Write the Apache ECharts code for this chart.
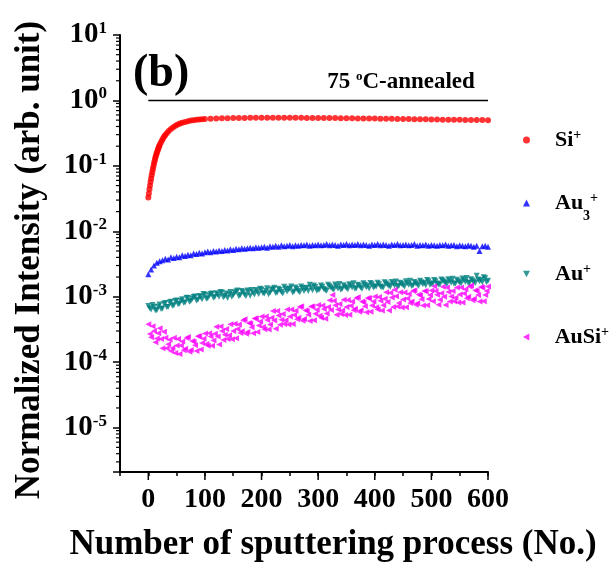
<!DOCTYPE html>
<html>
<head>
<meta charset="utf-8">
<script src="https://cdn.jsdelivr.net/npm/echarts@6/dist/echarts.min.js"></script>
<style>
html,body{margin:0;padding:0;background:#fff;}
#main{width:613px;height:563px;}
</style>
</head>
<body>
<div id="main"></div>
<script>
// sputtering step of the sampled points for the gold series
var STEP = 5;

// Si+ (normalized)
var siX = [0,1,2,3,4,5,6,7,8,9,10,11,12,13,14,15,16,17,18,19,20,22,24,26,28,30,33,36,40,44,48,52,56,60,65,70,75,80,85,90,95,100,
    110,120,130,140,150,160,170,180,190,200,210,220,230,240,250,260,270,280,290,300,310,320,330,340,350,360,370,380,390,400,
    410,420,430,440,450,460,470,480,490,500,510,520,530,540,550,560,570,580,590,600];
var siY = [0.033,0.038,0.044,0.05,0.057,0.064,0.072,0.08,0.089,0.098,0.108,0.118,0.128,0.138,0.148,0.158,0.168,0.178,0.188,0.198,0.208,0.226,0.244,0.262,0.28,0.296,0.318,0.34,0.365,0.39,0.41,0.428,0.443,0.456,0.47,0.482,0.492,0.5,0.507,0.513,0.518,0.522,
    0.527,0.531,0.534,0.536,0.538,0.54,0.541,0.542,0.543,0.543,0.544,0.543,0.544,0.543,0.542,0.543,0.542,0.541,0.541,0.54,0.539,0.538,0.537,0.536,0.535,0.534,0.532,0.531,0.53,0.528,
    0.527,0.526,0.524,0.522,0.52,0.519,0.517,0.516,0.514,0.512,0.511,0.509,0.508,0.506,0.505,0.504,0.503,0.502,0.501,0.5];

// Au3+ (x 1e-3), x = 0,5,...,600
var au3Y = [2.2,2.6,3.0,3.3,3.5,3.6,3.8,3.7,4.0,3.9,4.1,4.0,4.3,4.2,4.4,4.3,4.6,4.5,4.7,4.6,
    4.8,4.9,4.8,5.0,4.9,5.1,5.0,5.2,5.1,5.3,5.2,5.4,5.3,5.5,5.4,5.5,5.6,5.5,5.7,5.6,
    5.7,5.8,5.6,5.9,5.8,6.0,5.8,6.1,5.9,6.0,6.2,5.9,6.1,6.0,6.2,6.1,6.3,6.0,6.2,6.1,
    6.3,6.1,6.2,6.4,6.1,6.3,6.2,6.0,6.3,6.2,6.4,6.1,6.3,6.2,6.4,6.1,6.3,6.2,6.0,6.3,
    6.2,6.4,6.1,6.3,6.2,6.0,6.3,6.2,6.4,6.1,6.2,6.3,6.1,6.2,6.4,6.0,6.2,6.1,6.3,6.0,
    6.2,6.1,6.0,6.2,6.1,6.3,6.0,6.1,6.2,5.9,6.1,6.0,5.9,6.1,6.0,5.8,6.0,5.0,5.9,6.0,5.8];

// Au+ (x 1e-3), x = 0,5,...,600 and x = 2.5,7.5,...,597.5
var auY = [0.72,0.64,0.70,0.62,0.76,0.66,0.80,0.70,0.84,0.74,0.88,0.78,0.92,0.82,0.96,0.86,0.99,0.88,1.03,0.92,
    1.07,0.95,1.10,0.97,1.13,1.00,1.16,1.03,0.96,1.18,1.06,1.20,1.02,1.22,1.08,1.25,1.04,1.15,1.27,1.10,
    1.29,1.12,1.35,1.16,1.30,1.14,1.33,1.18,1.42,1.20,1.34,1.16,1.39,1.23,1.44,1.22,1.37,1.52,1.26,1.41,
    1.28,1.48,1.31,1.24,1.45,1.32,1.54,1.34,1.28,1.50,1.36,1.56,1.38,1.32,1.52,1.38,1.61,1.40,1.34,1.56,
    1.43,1.64,1.44,1.38,1.60,1.46,1.68,1.48,1.42,1.64,1.50,1.72,1.52,1.46,1.68,1.54,1.76,1.56,1.50,1.72,
    1.58,1.80,1.60,1.54,1.78,1.62,1.86,1.64,1.58,1.82,1.66,1.90,1.68,1.62,1.86,1.70,2.10,1.72,1.66,1.92,1.76];
var auY2 = [0.67,0.75,0.62,0.71,0.65,0.78,0.70,0.82,0.73,0.86,0.77,0.87,0.81,0.97,0.84,0.93,1.01,0.90,0.99,1.10,
    0.93,1.05,1.12,0.99,1.08,1.18,0.98,1.12,1.09,1.00,1.15,1.25,1.06,1.17,1.03,1.19,1.27,1.08,1.20,1.33,
    1.13,1.24,1.09,1.28,1.37,1.16,1.27,1.12,1.33,1.29,1.44,1.20,1.31,1.17,1.36,1.32,1.22,1.39,1.49,1.24,
    1.30,1.42,1.26,1.52,1.39,1.28,1.45,1.57,1.32,1.42,1.30,1.49,1.61,1.35,1.47,1.33,1.52,1.47,1.63,1.38,
    1.44,1.56,1.40,1.66,1.53,1.42,1.60,1.71,1.46,1.58,1.44,1.63,1.75,1.49,1.61,1.47,1.67,1.63,1.80,1.53,
    1.59,1.72,1.55,1.84,1.69,1.57,1.75,1.89,1.60,1.73,1.59,1.80,1.93,1.64,1.77,1.63,1.84,1.81,1.98,1.67];

// AuSi+ (x 1e-4), x = 0,5,...,600 and x = 2.5,7.5,...,597.5
var ausiY = [3.8,2.4,3.0,2.3,3.3,1.63,2.37,1.88,1.48,2.37,1.8,1.33,2.07,1.61,2.42,1.54,2.05,1.48,2.5,1.97,
    2.75,1.78,2.48,2.15,3.48,1.87,3.0,2.62,2.27,3.8,3.0,2.33,3.78,2.97,4.52,2.9,3.89,2.78,4.64,3.63,
    5.0,3.2,4.41,3.78,6.07,3.24,5.15,4.47,3.84,6.37,5.0,3.83,6.14,4.77,7.18,4.57,6.05,4.28,7.08,5.49,
    7.5,4.76,6.51,5.54,8.83,10.6,7.39,6.37,5.44,8.97,7.0,5.33,8.5,6.57,9.84,6.23,8.21,5.78,9.52,7.35,
    10.1,6.4,8.72,7.39,11.7,6.19,9.74,12.8,7.12,11.7,9.1,6.9,11.0,8.46,12.6,7.97,10.5,7.35,12.1,9.25,
    12.5,14.5,10.7,8.98,14.2,7.49,11.8,10.1,8.56,13.9,10.8,8.18,13.0,9.99,14.8,9.3,12.2,8.5,13.9,10.6,14.4];
var ausiY2 = [2.7,3.55,2.02,2.76,2.26,2.91,1.64,2.2,1.65,1.38,2.27,1.8,1.52,2.34,1.45,2.1,1.82,2.49,1.57,2.29,
    1.9,2.78,1.78,2.73,2.48,3.51,2.18,3.22,2.59,2.25,3.87,3.21,2.8,4.36,2.73,3.98,3.43,4.65,2.89,4.19,
    3.44,4.98,3.15,4.79,4.32,6.05,3.72,5.46,4.37,3.76,6.41,5.25,4.52,6.96,4.31,6.22,5.31,7.13,4.39,6.31,
    5.14,7.38,4.63,6.99,6.26,8.71,5.32,7.76,6.17,5.28,8.95,7.29,6.24,9.56,5.89,8.46,7.19,9.61,5.89,8.48,
    6.93,9.9,6.18,9.3,8.29,11.5,7.0,10.2,8.06,6.88,11.6,9.44,8.04,12.3,7.54,10.8,9.17,12.2,7.44,10.6,
    8.54,12.2,7.55,11.3,10.0,13.9,8.44,12.2,9.63,8.17,13.8,11.2,9.5,14.4,8.81,12.6,10.6,14.1,8.57,12.2];

var xMajor = [0,100,200,300,400,500,600];
var yDecades = [-6,-5,-4,-3,-2,-1,0];
var X_MIN = -50, X_MAX = 600;
var Y_MIN = 2.1e-6, Y_MAX = 10;

var FONT = 'Liberation Serif';

function toPairs(ys, scale, offset){
    var out = [];
    for(var i = 0; i < ys.length; i++){
        out.push([i * STEP + offset, ys[i] * scale]);
    }
    return out;
}

var siData = [];
for(var i = 0; i < siX.length; i++){
    siData.push([siX[i], siY[i]]);
}

// minor ticks of the log axis (2..9 in each decade)
var yMinor = [];
for(var d = 0; d < yDecades.length; d++){
    for(var m = 2; m <= 9; m++){
        var v = m * Math.pow(10, yDecades[d]);
        if(v > Y_MIN && v < Y_MAX) yMinor.push([X_MIN, v]);
    }
}
var xMajorData = xMajor.map(function(v){ return [v, Y_MIN]; });

var myChart = echarts.init(document.getElementById('main'));

var legendNames = ['Si+', 'Au3+', 'Au+', 'AuSi+'];
var legendText = {
    'Si+': '{b|Si}{sup|+}',
    'Au3+': '{b|Au}{sub|3}{sup|+}',
    'Au+': '{b|Au}{sup|+}',
    'AuSi+': '{b|AuSi}{sup|+}'
};
var legendCenters = [139, 202, 273, 336];
var legendIcons = ['circle', 'triangle', 'path://M0,0L10,0L5,9Z', 'path://M9,0L9,10L0,5Z'];

var legendRich = {
    b: {fontFamily: FONT, fontWeight: 'bold', fontSize: 22, lineHeight: 24, color: '#000', padding: [0,0,0,20]},
    sup: {fontFamily: FONT, fontWeight: 'bold', fontSize: 14, lineHeight: 12, verticalAlign: 'top', color: '#000'},
    sub: {fontFamily: FONT, fontWeight: 'bold', fontSize: 14, lineHeight: 12, verticalAlign: 'bottom', color: '#000', padding: [0,0,-8,0]}
};

var legends = legendNames.map(function(n, i){
    return {
        data: [{name: n, icon: legendIcons[i]}],
        orient: 'vertical',
        left: 518,
        top: legendCenters[i] - 16,
        itemWidth: 7,
        itemHeight: 7,
        selectedMode: false,
        formatter: function(name){ return legendText[name]; },
        textStyle: {rich: legendRich}
    };
});

option = {
    backgroundColor: '#fff',
    animation: false,
    grid: {left: 120, right: 125, top: 35, bottom: 91},
    legend: legends,
    xAxis: {
        type: 'value',
        min: X_MIN,
        max: X_MAX,
        interval: 50,
        splitLine: {show: false},
        axisLine: {onZero: false, lineStyle: {color: '#000', width: 2}},
        axisTick: {inside: false, length: 4, lineStyle: {color: '#000', width: 1.5}},
        axisLabel: {
            margin: 14,
            color: '#000',
            fontFamily: FONT,
            fontWeight: 'bold',
            fontSize: 28,
            formatter: function(v){
                return (v >= 0 && v % 100 === 0) ? String(v) : '';
            }
        }
    },
    yAxis: {
        type: 'log',
        logBase: 10,
        min: Y_MIN,
        max: Y_MAX,
        splitLine: {show: false},
        axisLine: {onZero: false, lineStyle: {color: '#000', width: 2}},
        axisTick: {inside: false, length: 7, lineStyle: {color: '#000', width: 1.5}},
        axisLabel: {
            margin: 13,
            color: '#000',
            formatter: function(v){
                var lg = Math.log10(v);
                var e = Math.round(lg);
                if(Math.abs(lg - e) > 1e-6) return '';
                return '{b|10}{s|' + e + '}';
            },
            rich: {
                b: {fontFamily: FONT, fontWeight: 'bold', fontSize: 29, lineHeight: 30, color: '#000'},
                s: {fontFamily: FONT, fontWeight: 'bold', fontSize: 17, lineHeight: 15, verticalAlign: 'top', color: '#000'}
            }
        }
    },
    graphic: [
        {
            type: 'text',
            rotation: Math.PI / 2,
            x: 30, y: 260,
            style: {text: 'Normalized Intensity (arb. unit)', font: 'bold 35px "Liberation Serif"', fill: '#000', textAlign: 'center', textVerticalAlign: 'middle'}
        },
        {
            type: 'text', x: 333, y: 545,
            style: {text: 'Number of sputtering process (No.)', font: 'bold 35px "Liberation Serif"', fill: '#000', textAlign: 'center', textVerticalAlign: 'middle'}
        },
        {
            type: 'text', x: 133, y: 74,
            style: {text: '(b)', font: 'bold 46px "Liberation Serif"', fill: '#000', textAlign: 'left', textVerticalAlign: 'middle'}
        },
        {
            type: 'text', x: 401, y: 82,
            style: {
                text: '{n|75 }{o|o}{n|C-annealed}',
                textAlign: 'center', textVerticalAlign: 'middle',
                rich: {
                    n: {fontFamily: FONT, fontWeight: 'bold', fontSize: 23, lineHeight: 24, fill: '#000'},
                    o: {fontFamily: FONT, fontWeight: 'bold', fontSize: 13, lineHeight: 12, verticalAlign: 'top', fill: '#000'}
                }
            }
        }
    ],
    series: [
        {
            name: 'Si+',
            type: 'scatter',
            symbol: 'circle',
            symbolSize: 6,
            itemStyle: {color: '#ff0000'},
            data: siData
        },
        {
            name: 'Au3+',
            type: 'scatter',
            symbol: 'triangle',
            symbolSize: 6,
            itemStyle: {color: '#0000ff'},
            data: toPairs(au3Y, 1e-3, 0)
        },
        {
            name: 'Au+',
            type: 'scatter',
            symbol: 'triangle',
            symbolRotate: 180,
            symbolSize: 6,
            itemStyle: {color: '#008080'},
            data: toPairs(auY, 1e-3, 0).concat(toPairs(auY2, 1e-3, STEP / 2))
        },
        {
            name: 'AuSi+',
            type: 'scatter',
            symbol: 'triangle',
            symbolRotate: 90,
            symbolSize: 6,
            itemStyle: {color: '#ff00ff'},
            data: toPairs(ausiY, 1e-4, 0).concat(toPairs(ausiY2, 1e-4, STEP / 2))
        },
        {
            // reference line at 1
            name: 'ref',
            type: 'line',
            silent: true,
            symbol: 'none',
            lineStyle: {color: '#000', width: 1.5},
            data: [[0, 1], [600, 1]]
        },
        {
            // longer ticks at every 100
            type: 'custom',
            silent: true,
            clip: false,
            data: xMajorData,
            renderItem: function(params, api){
                var p = api.coord([api.value(0), api.value(1)]);
                return {type: 'line', shape: {x1: p[0], y1: p[1], x2: p[0], y2: p[1] + 8}, style: {stroke: '#000', lineWidth: 1.5}};
            }
        },
        {
            // log minor ticks
            type: 'custom',
            silent: true,
            clip: false,
            data: yMinor,
            renderItem: function(params, api){
                var p = api.coord([api.value(0), api.value(1)]);
                return {type: 'line', shape: {x1: p[0] - 4, y1: p[1], x2: p[0], y2: p[1]}, style: {stroke: '#000', lineWidth: 1.2}};
            }
        }
    ]
};
myChart.setOption(option);
</script>
</body>
</html>
